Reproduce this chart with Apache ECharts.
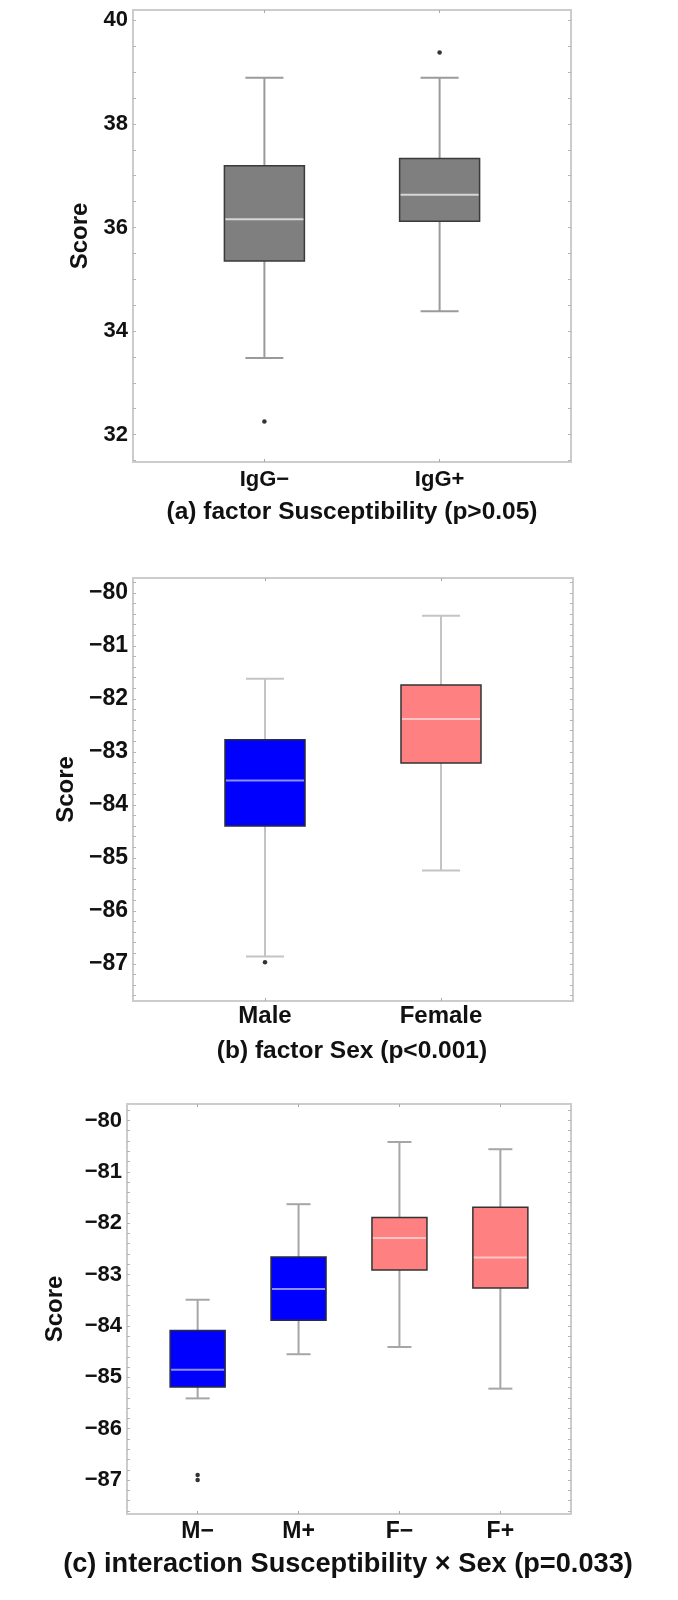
<!DOCTYPE html>
<html>
<head>
<meta charset="utf-8">
<script src="https://cdn.jsdelivr.net/npm/echarts@6/dist/echarts.min.js"></script>
<style>
  html, body { margin: 0; padding: 0; background: #fff; }
  #chart { width: 678px; height: 1600px; }
</style>
</head>
<body>
<div id="chart"></div>
<script>
const FONT = '"Liberation Sans", Arial, sans-serif'

// (a) factor Susceptibility
const catsA = ['IgG−', 'IgG+']
const boxA = [ // min, Q1, median, Q3, max
  [33.48, 35.35, 36.16, 37.19, 38.89],
  [34.38, 36.12, 36.63, 37.33, 38.89],
]
const outA = [[1, 32.25], [2, 39.38]]
const yTicksA = [32, 34, 36, 38, 40]

// (b) factor Sex
const catsB = ['Male', 'Female']
const boxB = [
  [-86.86, -84.40, -83.54, -82.77, -81.62],
  [-85.24, -83.21, -82.38, -81.74, -80.43],
]
const outB = [[1, -86.97]]
const yTicksB = [-87, -86, -85, -84, -83, -82, -81, -80]

// (c) interaction Susceptibility x Sex
const catsC = ['M−', 'M+', 'F−', 'F+']
const boxC = [
  [-85.41, -85.19, -84.85, -84.09, -83.49],
  [-84.55, -83.89, -83.28, -82.66, -81.63],
  [-84.41, -82.91, -82.29, -81.89, -80.42],
  [-85.22, -83.26, -82.67, -81.69, -80.56],
]
const outC = [[1, -86.90], [1, -87.00]]
const yTicksC = [-87, -86, -85, -84, -83, -82, -81, -80]

const titles = [
  '(a) factor Susceptibility (p>0.05)',
  '(b) factor Sex (p<0.001)',
  '(c) interaction Susceptibility × Sex (p=0.033)',
]

const GRAY = { fill: '#7f7f7f', border: '#3a3a3a', median: '#d6d6d6' }
const BLUE = { fill: '#0000ff', border: '#2a2a40', median: '#8e8eff' }
const PINK = { fill: '#ff8080', border: '#333333', median: '#ffc4c4' }

function minorTicks(lo, hi, step) {
  const out = []
  for (let v = lo; v <= hi + 1e-9; v += step) out.push(Math.round(v * 100) / 100)
  return out
}

function fmtNum(v) {
  return v < 0 ? '−' + Math.abs(v) : String(v)
}

function boxRenderer(boxW, capW, styles, whisker) {
  return function (params, api) {
    const x = api.value(0)
    const st = styles[params.dataIndex]
    const pMin = api.coord([x, api.value(1)])
    const pQ1 = api.coord([x, api.value(2)])
    const pMed = api.coord([x, api.value(3)])
    const pQ3 = api.coord([x, api.value(4)])
    const pMax = api.coord([x, api.value(5)])
    const cx = pMin[0]
    const wStyle = { stroke: whisker, lineWidth: 2 }
    return {
      type: 'group',
      children: [
        { type: 'line', shape: { x1: cx, y1: pMin[1], x2: cx, y2: pMax[1] }, style: wStyle },
        { type: 'line', shape: { x1: cx - capW / 2, y1: pMin[1], x2: cx + capW / 2, y2: pMin[1] }, style: wStyle },
        { type: 'line', shape: { x1: cx - capW / 2, y1: pMax[1], x2: cx + capW / 2, y2: pMax[1] }, style: wStyle },
        {
          type: 'rect',
          shape: { x: cx - boxW / 2, y: pQ3[1], width: boxW, height: pQ1[1] - pQ3[1] },
          style: { fill: st.fill, stroke: st.border, lineWidth: 1.5 },
        },
        {
          type: 'line',
          shape: { x1: cx - boxW / 2 + 1, y1: pMed[1], x2: cx + boxW / 2 - 1, y2: pMed[1] },
          style: { stroke: st.median, lineWidth: 2 },
        },
      ],
    }
  }
}

const panels = [
  {
    grid: { left: 133, top: 10, width: 438, height: 452 },
    xMin: 0.25, xMax: 2.75, cats: catsA,
    yMin: 31.47, yMax: 40.2, yTicks: yTicksA, minor: minorTicks(31.5, 40, 0.5),
    boxes: boxA, outliers: outA, styles: [GRAY, GRAY], whisker: '#9a9a9a',
    boxW: 80, capW: 38,
    tickSize: 22, catSize: 22, catMargin: 7, nameGap: 35,
    title: titles[0], titleX: 352, titleY: 512, titleSize: 24.5,
  },
  {
    grid: { left: 133, top: 578, width: 440, height: 423 },
    xMin: 0.25, xMax: 2.75, cats: catsB,
    yMin: -87.7, yMax: -79.72, yTicks: yTicksB, minor: minorTicks(-87.6, -79.8, 0.2),
    boxes: boxB, outliers: outB, styles: [BLUE, PINK], whisker: '#c4c4c4',
    boxW: 80, capW: 38,
    tickSize: 23, catSize: 24, catMargin: 3, nameGap: 52,
    title: titles[1], titleX: 352, titleY: 1051, titleSize: 24.5,
  },
  {
    grid: { left: 127, top: 1104, width: 444, height: 410 },
    xMin: 0.3, xMax: 4.7, cats: catsC,
    yMin: -87.66, yMax: -79.68, yTicks: yTicksC, minor: minorTicks(-87.6, -79.8, 0.2),
    boxes: boxC, outliers: outC, styles: [BLUE, BLUE, PINK, PINK], whisker: '#a6a6a6',
    boxW: 55, capW: 24,
    tickSize: 22, catSize: 23, catMargin: 6, nameGap: 60,
    title: titles[2], titleX: 348, titleY: 1565, titleSize: 27.2,
  },
]

const option = {
  animation: false,
  backgroundColor: '#fff',
  textStyle: { fontFamily: FONT },
  title: [],
  grid: [],
  xAxis: [],
  yAxis: [],
  series: [],
}

panels.forEach((p, gi) => {
  const catPos = p.cats.map((_, i) => i + 1)
  option.grid.push(Object.assign({ show: true, borderColor: '#cccccc', borderWidth: 2 }, p.grid))
  option.title.push({
    text: p.title,
    left: p.titleX,
    top: p.titleY - (p.titleSize + 4) / 2,
    textAlign: 'center',
    padding: 0,
    textStyle: { fontFamily: FONT, fontWeight: 'bold', fontSize: p.titleSize, lineHeight: p.titleSize + 4, color: '#111' },
  })
  const xBase = {
    type: 'value', gridIndex: gi, min: p.xMin, max: p.xMax,
    axisLine: { show: false }, splitLine: { show: false },
    axisTick: { show: true, inside: true, length: 3, customValues: catPos, lineStyle: { color: '#aaaaaa' } },
  }
  option.xAxis.push(Object.assign({}, xBase, {
    position: 'bottom',
    axisLabel: {
      show: true, customValues: catPos, margin: p.catMargin,
      fontFamily: FONT, fontWeight: 'bold', fontSize: p.catSize, color: '#111',
      formatter: v => p.cats[Math.round(v) - 1] || '',
    },
  }))
  option.xAxis.push(Object.assign({}, xBase, { position: 'top', axisLabel: { show: false } }))
  const yBase = {
    type: 'value', gridIndex: gi, min: p.yMin, max: p.yMax,
    axisLine: { show: false }, splitLine: { show: false },
    axisTick: { show: true, inside: true, length: 3, customValues: p.minor, lineStyle: { color: '#b4b4b4' } },
  }
  option.yAxis.push(Object.assign({}, yBase, {
    position: 'left',
    name: 'Score', nameLocation: 'middle', nameGap: p.nameGap,
    nameTextStyle: { fontFamily: FONT, fontWeight: 'bold', fontSize: 24, color: '#111' },
    axisLabel: {
      show: true, customValues: p.yTicks, margin: 5,
      fontFamily: FONT, fontWeight: 'bold', fontSize: p.tickSize, color: '#111',
      formatter: fmtNum,
    },
  }))
  option.yAxis.push(Object.assign({}, yBase, { position: 'right', axisLabel: { show: false } }))

  option.series.push({
    type: 'custom',
    xAxisIndex: gi * 2,
    yAxisIndex: gi * 2,
    renderItem: boxRenderer(p.boxW, p.capW, p.styles, p.whisker),
    encode: { x: 0, y: [1, 2, 3, 4, 5] },
    data: p.boxes.map((b, i) => [i + 1].concat(b)),
    silent: true,
    z: 2,
  })
  option.series.push({
    type: 'scatter',
    xAxisIndex: gi * 2,
    yAxisIndex: gi * 2,
    symbol: 'circle',
    symbolSize: 4.5,
    itemStyle: { color: '#000' },
    data: p.outliers,
    silent: true,
    z: 3,
  })
})

const chart = echarts.init(document.getElementById('chart'), null, { renderer: 'canvas' })
chart.setOption(option)
window.addEventListener('resize', () => chart.resize())
</script>
</body>
</html>
